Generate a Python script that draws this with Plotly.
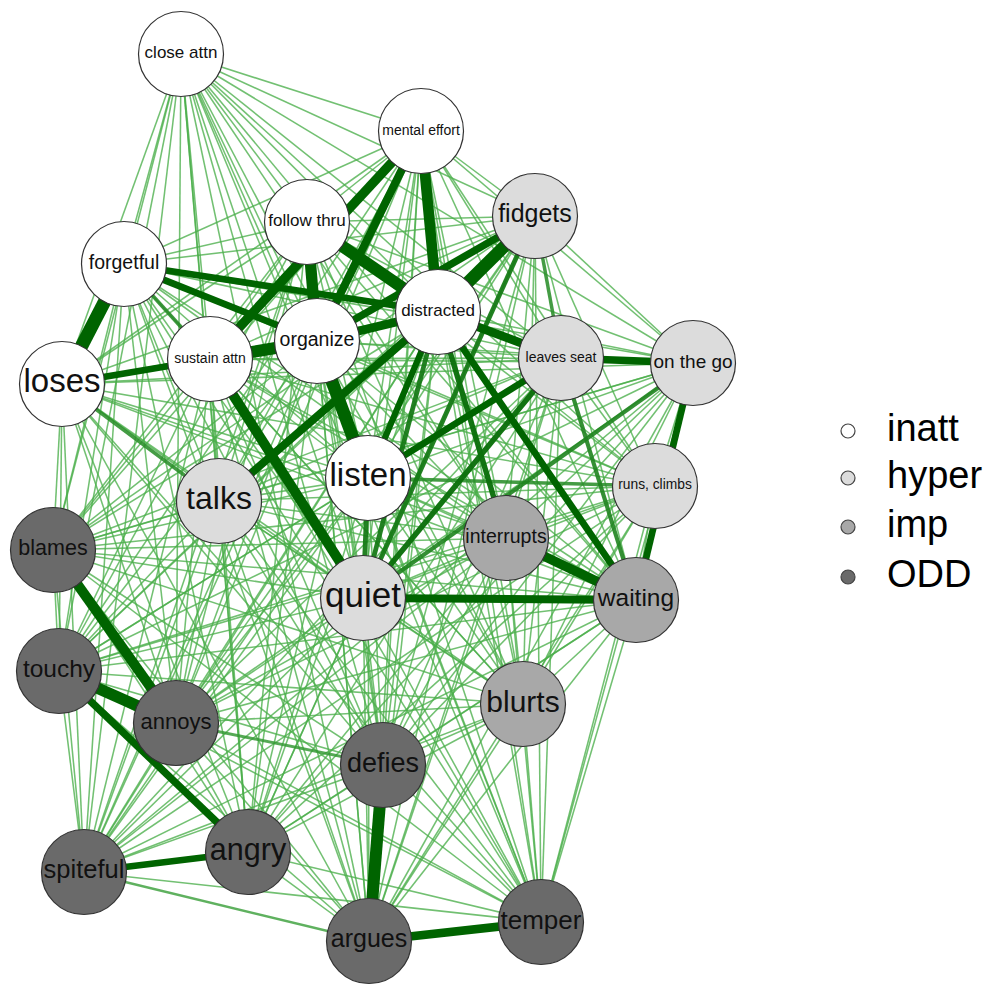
import plotly.graph_objects as go

# ---------------- data ----------------
nodes = ["close attn", "mental effort", "follow thru", "fidgets", "forgetful",
         "distracted", "organize", "sustain attn", "leaves seat", "on the go",
         "loses", "listen", "talks", "runs, climbs", "interrupts", "blames",
         "quiet", "waiting", "touchy", "blurts", "annoys", "defies", "angry",
         "spiteful", "argues", "temper"]
groups = ["inatt", "inatt", "inatt", "hyper", "inatt",
          "inatt", "inatt", "inatt", "hyper", "hyper",
          "inatt", "inatt", "hyper", "hyper", "imp", "ODD",
          "hyper", "imp", "ODD", "imp", "ODD", "ODD", "ODD",
          "ODD", "ODD", "ODD"]
# network layout coordinates (as drawn)
layout_x = [181, 421, 307, 535, 124, 438, 317, 210, 561, 693,
            62, 368, 219, 655, 506, 53, 363, 636, 59, 523,
            176, 383, 248, 84, 369, 541]
layout_y = [54, 131, 222, 216, 264, 312, 341, 359, 358, 363,
            384, 478, 501, 486, 538, 550, 598, 600, 671, 704,
            723, 765, 852, 872, 941, 922]
label_size = [17, 14, 17, 25, 19.5, 17, 19.5, 14, 14, 19,
              33, 33, 32, 13.8, 19.5, 21.5, 35, 24.5, 24.5, 30,
              22, 27, 30.5, 25.5, 25, 26]

# strong edge weights (0..1)
strong_edges = [
    ("forgetful", "loses", 0.95),
    ("loses", "sustain attn", 0.45),
    ("forgetful", "distracted", 0.45),
    ("forgetful", "organize", 0.45),
    ("forgetful", "sustain attn", 0.22),
    ("sustain attn", "organize", 0.85),
    ("mental effort", "sustain attn", 0.65),
    ("mental effort", "distracted", 0.75),
    ("mental effort", "organize", 0.55),
    ("follow thru", "distracted", 0.85),
    ("follow thru", "organize", 0.8),
    ("organize", "distracted", 0.6),
    ("organize", "listen", 0.9),
    ("distracted", "fidgets", 0.9),
    ("organize", "fidgets", 0.5),
    ("talks", "distracted", 0.55),
    ("distracted", "leaves seat", 0.6),
    ("distracted", "listen", 0.4),
    ("distracted", "quiet", 0.3),
    ("distracted", "waiting", 0.45),
    ("distracted", "interrupts", 0.35),
    ("leaves seat", "on the go", 0.5),
    ("leaves seat", "listen", 0.45),
    ("leaves seat", "quiet", 0.35),
    ("leaves seat", "waiting", 0.25),
    ("sustain attn", "quiet", 0.7),
    ("quiet", "waiting", 0.55),
    ("quiet", "fidgets", 0.3),
    ("quiet", "listen", 0.3),
    ("on the go", "quiet", 0.25),
    ("interrupts", "waiting", 0.65),
    ("on the go", "waiting", 0.45),
    ("listen", "runs, climbs", 0.2),
    ("loses", "talks", 0.2),
    ("fidgets", "leaves seat", 0.2),
    ("blames", "annoys", 0.7),
    ("touchy", "annoys", 0.8),
    ("touchy", "angry", 0.5),
    ("spiteful", "angry", 0.45),
    ("defies", "argues", 0.85),
    ("argues", "temper", 0.6),
    ("annoys", "defies", 0.15),
    ("spiteful", "argues", 0.12),
]
weak_weight = 0.05   # all remaining pairs are weakly connected

group_names = ["inatt", "hyper", "imp", "ODD"]
group_colors = {"inatt": "#FFFFFF", "hyper": "#DCDCDC", "imp": "#A8A8A8", "ODD": "#6A6A6A"}

# ---------------- build ----------------
idx = {n: i for i, n in enumerate(nodes)}
weights = {}
for a, b, w in strong_edges:
    weights[tuple(sorted((idx[a], idx[b])))] = w
for i in range(len(nodes)):
    for j in range(i + 1, len(nodes)):
        weights.setdefault((i, j), weak_weight)

def edge_color(w):
    t = min(w / 0.4, 1.0)
    c0 = (85, 185, 85)
    c1 = (0, 100, 0)
    r, g, b = [round(c0[k] + (c1[k] - c0[k]) * t) for k in range(3)]
    a = 0.75 + 0.25 * t
    return f"rgba({r},{g},{b},{a:.2f})"

buckets = {}
for (i, j), w in weights.items():
    buckets.setdefault(w, []).append((i, j))

fig = go.Figure()
for w in sorted(buckets):
    xs, ys = [], []
    for i, j in buckets[w]:
        xs += [layout_x[i], layout_x[j], None]
        ys += [layout_y[i], layout_y[j], None]
    fig.add_trace(go.Scatter(x=xs, y=ys, mode="lines", hoverinfo="skip",
                             line=dict(color=edge_color(w), width=0.9 + 13 * w),
                             showlegend=False))

fig.add_trace(go.Scatter(
    x=layout_x, y=layout_y, mode="markers+text", text=nodes,
    textposition="middle center",
    textfont=dict(family="Liberation Sans, Arial", size=label_size, color="#111111"),
    marker=dict(size=85, color=[group_colors[g] for g in groups],
                line=dict(color="#333333", width=1.2)),
    showlegend=False, hoverinfo="text"))

# legend (drawn in the plot area)
leg_x = [848] * 4
leg_y = [431, 478, 527, 577]
fig.add_trace(go.Scatter(
    x=leg_x, y=leg_y, mode="markers",
    marker=dict(size=14, color=[group_colors[g] for g in group_names],
                line=dict(color="#444444", width=1.2)),
    showlegend=False, hoverinfo="skip"))
fig.add_trace(go.Scatter(
    x=[887] * 4, y=leg_y, mode="text", text=group_names,
    textposition="middle right",
    textfont=dict(family="Liberation Sans, Arial", size=38, color="#000000"),
    showlegend=False, hoverinfo="skip"))

# page body has an 8px margin: keep 1 data unit = 1 screen pixel
fig.update_layout(
    width=988, height=984, margin=dict(l=0, r=0, t=0, b=0),
    paper_bgcolor="white", plot_bgcolor="white",
    xaxis=dict(range=[8, 996], visible=False, fixedrange=True),
    yaxis=dict(range=[992, 8], visible=False, fixedrange=True),
)
fig.write_html("out.html")
